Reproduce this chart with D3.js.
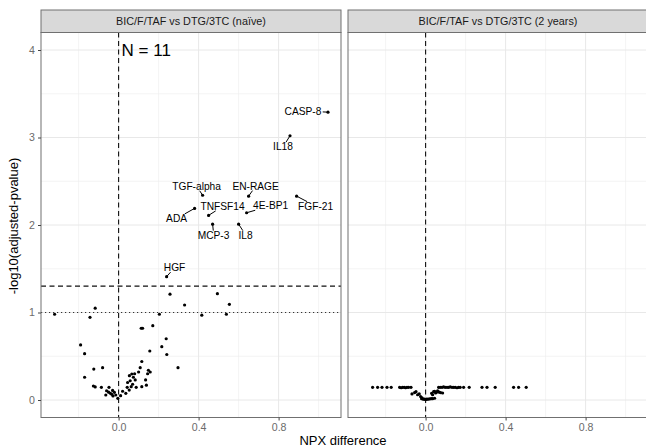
<!DOCTYPE html>
<html>
<head>
<meta charset="utf-8">
<script src="https://cdn.jsdelivr.net/npm/d3@7"></script>
<style>
  html, body { margin: 0; padding: 0; background: #fff; }
  svg { display: block; font-family: "Liberation Sans", Arial, Helvetica, sans-serif; }
</style>
</head>
<body>
<svg id="chart" width="646" height="448"></svg>
<script>
// Facet titles
const facetTitles = ["BIC/F/TAF vs DTG/3TC (naïve)", "BIC/F/TAF vs DTG/3TC (2 years)"];

// Axis ticks
const xTicks = [0, 0.4, 0.8];
const xMinor = [-0.2, 0.2, 0.6, 1.0];
const yTicks = [0, 1, 2, 3, 4];
const yMinor = [0.5, 1.5, 2.5, 3.5];

// Significance thresholds (-log10 scale)
const adjCutoff = 1.301;   // adjusted p = 0.05
const dotCutoff = 1.0;     // adjusted p = 0.10

// Naïve comparison: labelled proteins
const naiveLabels = ["CASP-8", "IL18", "TGF-alpha", "EN-RAGE", "FGF-21", "TNFSF14", "4E-BP1", "ADA", "MCP-3", "IL8", "HGF"];
const naiveLabelDiff = [1.047, 0.857, 0.42, 0.65, 0.89, 0.45, 0.64, 0.38, 0.47, 0.60, 0.24];
const naiveLabelP    = [3.29, 3.02, 2.34, 2.33, 2.33, 2.11, 2.14, 2.19, 2.01, 2.01, 1.41];

// Naïve comparison: remaining proteins
const naiveDiff = [-0.32, -0.117, -0.143, -0.19, -0.17, -0.124, -0.08, -0.17, -0.126, -0.117,
  -0.086, -0.06, -0.048, -0.064, -0.041, -0.034, -0.028, -0.021, -0.014, -0.004,
  0.036, 0.043, 0.053, 0.063, 0.07, 0.054, 0.066, 0.074, 0.083, 0.088,
  0.1, 0.108, 0.116, 0.116, 0.139, 0.149, 0.158, 0.113, 0.12, 0.171,
  0.156, 0.204, 0.216, 0.238, 0.241, 0.257, 0.33, 0.416, 0.494, 0.554,
  0.539, 0.297, 0.058, 0.045, 0.02, -0.05, 0.08, -0.03, 0.01, 0.135, 0.145];
const naiveP = [0.98, 1.05, 0.945, 0.63, 0.53, 0.354, 0.37, 0.26, 0.16, 0.15,
  0.145, 0.106, 0.145, 0.057, 0.076, 0.065, 0.046, 0.088, 0.057, 0.019,
  0.076, 0.145, 0.114, 0.152, 0.18, 0.278, 0.297, 0.26, 0.229, 0.145,
  0.32, 0.37, 0.44, 0.152, 0.17, 0.34, 0.32, 0.82, 0.82, 0.85,
  0.56, 0.98, 0.61, 0.70, 0.52, 1.21, 1.086, 0.97, 1.215, 1.094,
  0.98, 0.37, 0.22, 0.2, 0.1, 0.09, 0.3, 0.11, 0.05, 0.23, 0.3];

// 2-year comparison
const yearsDiff = [-0.265, -0.24, -0.218, -0.193, -0.172, -0.13, -0.122, -0.115, -0.107, -0.1,
  -0.093, -0.085, -0.073, 0.065, 0.073, 0.082, 0.09, 0.098, 0.107, 0.115,
  0.123, 0.132, 0.14, 0.148, 0.157, 0.165, 0.173, 0.19, 0.218, 0.282,
  0.307, 0.348, 0.44, 0.465, 0.503,
  -0.068, -0.055, -0.048, -0.04, -0.032, -0.025, -0.018,
  -0.02, -0.012, -0.005, 0, 0.005, 0.012, 0.02, 0.028, 0.035, 0.045,
  0.03, 0.035, 0.04, 0.045, 0.05, 0.055, 0.06, 0.068, 0.075, 0.085];
const yearsP = [0.145, 0.145, 0.145, 0.145, 0.145, 0.145, 0.14, 0.145, 0.145, 0.14,
  0.145, 0.145, 0.145, 0.145, 0.145, 0.145, 0.15, 0.145, 0.145, 0.145,
  0.15, 0.145, 0.145, 0.145, 0.14, 0.145, 0.145, 0.145, 0.145, 0.145,
  0.145, 0.145, 0.145, 0.145, 0.145,
  0.069, 0.085, 0.095, 0.06, 0.069, 0.04, 0.025,
  0.015, 0.01, 0.01, 0.005, 0.01, 0.01, 0.012, 0.015, 0.015, 0.02,
  0.076, 0.06, 0.095, 0.1, 0.08, 0.09, 0.105, 0.09, 0.085, 0.08];

// Label placement relative to its point (pixels)
const labelOffsets = {
  "CASP-8": [-25, -1], "IL18": [-7, 11], "TGF-alpha": [-6, -9], "EN-RAGE": [7, -10],
  "FGF-21": [19, 10], "TNFSF14": [14, -9], "4E-BP1": [24, -7], "ADA": [-18, 10],
  "MCP-3": [1, 11], "IL8": [7, 11], "HGF": [8, -9]
};

const svg = d3.select("#chart");
const panelW = 300, stripTop = 10, panelTop = 32.5, panelBottom = 417.5;
const panelLefts = [41, 348];

const y = d3.scaleLinear().domain([-0.2, 4.2]).range([panelBottom, panelTop]);

const panels = [
  { points: naiveDiff.map((d, i) => ({ x: d, y: naiveP[i] }))
      .concat(naiveLabelDiff.map((d, i) => ({ x: d, y: naiveLabelP[i], label: naiveLabels[i] }))),
    thresholds: true, note: "N = 11" },
  { points: yearsDiff.map((d, i) => ({ x: d, y: yearsP[i] })), thresholds: false }
];

panels.forEach((p, k) => {
  const left = panelLefts[k];
  const x = d3.scaleLinear().domain([-0.388, 1.112]).range([left, left + panelW]);
  const g = svg.append("g");

  // background & grid
  g.append("rect").attr("x", left).attr("y", panelTop).attr("width", panelW)
    .attr("height", panelBottom - panelTop).attr("fill", "#fff");
  g.selectAll(".gxm").data(xMinor).join("line")
    .attr("x1", d => x(d)).attr("x2", d => x(d)).attr("y1", panelTop).attr("y2", panelBottom)
    .attr("stroke", "#EFEFEF").attr("stroke-width", 0.7);
  g.selectAll(".gym").data(yMinor).join("line")
    .attr("y1", d => y(d)).attr("y2", d => y(d)).attr("x1", left).attr("x2", left + panelW)
    .attr("stroke", "#EFEFEF").attr("stroke-width", 0.7);
  g.selectAll(".gx").data(xTicks).join("line")
    .attr("x1", d => x(d)).attr("x2", d => x(d)).attr("y1", panelTop).attr("y2", panelBottom)
    .attr("stroke", "#E8E8E8").attr("stroke-width", 1);
  g.selectAll(".gy").data(yTicks).join("line")
    .attr("y1", d => y(d)).attr("y2", d => y(d)).attr("x1", left).attr("x2", left + panelW)
    .attr("stroke", "#E8E8E8").attr("stroke-width", 1);

  // reference lines
  g.append("line").attr("x1", x(0)).attr("x2", x(0)).attr("y1", panelTop).attr("y2", panelBottom)
    .attr("stroke", "#111").attr("stroke-width", 1.1).attr("stroke-dasharray", "5,3.5");
  if (p.thresholds) {
    g.append("line").attr("x1", left).attr("x2", left + panelW)
      .attr("y1", y(adjCutoff)).attr("y2", y(adjCutoff))
      .attr("stroke", "#111").attr("stroke-width", 1.1).attr("stroke-dasharray", "5,3.5");
    g.append("line").attr("x1", left).attr("x2", left + panelW)
      .attr("y1", y(dotCutoff)).attr("y2", y(dotCutoff))
      .attr("stroke", "#333").attr("stroke-width", 1.1).attr("stroke-dasharray", "1.2,2.8");
  }

  // points
  g.selectAll(".pt").data(p.points).join("circle")
    .attr("cx", d => x(d.x)).attr("cy", d => y(d.y)).attr("r", 1.6).attr("fill", "#000");

  // labels with leader segments
  p.points.filter(d => d.label).forEach(d => {
    const px = x(d.x), py = y(d.y);
    const off = labelOffsets[d.label];
    const t = g.append("text").attr("x", px + off[0]).attr("y", py + off[1])
      .attr("text-anchor", "middle").attr("dominant-baseline", "central")
      .attr("font-size", 10.2).attr("fill", "#000").text(d.label);
    const bb = t.node().getBBox();
    const cx = bb.x + bb.width / 2, cy = bb.y + bb.height / 2;
    const hw = bb.width / 2 + 1, hh = bb.height / 2 - 1;
    const dx = px - cx, dy = py - cy;
    const s = Math.min(dx !== 0 ? hw / Math.abs(dx) : Infinity, dy !== 0 ? hh / Math.abs(dy) : Infinity);
    if (s < 1) {
      g.append("line").attr("x1", cx + dx * s).attr("y1", cy + dy * s).attr("x2", px).attr("y2", py)
        .attr("stroke", "#000").attr("stroke-width", 1);
    }
  });

  if (p.note) {
    g.append("text").attr("x", x(0) + 3).attr("y", y(4)).attr("dominant-baseline", "central")
      .attr("font-size", 17).attr("fill", "#000").text(p.note);
  }

  // panel border
  g.append("rect").attr("x", left).attr("y", panelTop).attr("width", panelW)
    .attr("height", panelBottom - panelTop).attr("fill", "none")
    .attr("stroke", "#707070").attr("stroke-width", 1);

  // strip
  g.append("rect").attr("x", left).attr("y", stripTop).attr("width", panelW)
    .attr("height", panelTop - stripTop).attr("fill", "#D9D9D9")
    .attr("stroke", "#707070").attr("stroke-width", 1);
  g.append("text").attr("x", left + panelW / 2).attr("y", (stripTop + panelTop) / 2)
    .attr("text-anchor", "middle").attr("dominant-baseline", "central")
    .attr("font-size", 10.8).attr("fill", "#1A1A1A").text(facetTitles[k]);

  // x axis
  const xAxis = d3.axisBottom(x).tickValues(xTicks).tickFormat(d3.format(".1f")).tickSize(3).tickPadding(3);
  const ax = svg.append("g").attr("transform", `translate(0,${panelBottom})`).call(xAxis);
  ax.select(".domain").remove();
  ax.selectAll("line").attr("stroke", "#444");
  ax.selectAll("text").attr("font-size", 10.6).attr("fill", "#6b6b6b")
    .attr("font-family", "Liberation Sans, Arial, sans-serif");

  // y axis (left panel only)
  if (k === 0) {
    const yAxis = d3.axisLeft(y).tickValues(yTicks).tickFormat(d3.format("d")).tickSize(3).tickPadding(3);
    const ay = svg.append("g").attr("transform", `translate(${left},0)`).call(yAxis);
    ay.select(".domain").remove();
    ay.selectAll("line").attr("stroke", "#444");
    ay.selectAll("text").attr("font-size", 10.6).attr("fill", "#6b6b6b")
      .attr("font-family", "Liberation Sans, Arial, sans-serif");
  }
});

// axis titles
svg.append("text").attr("x", 343).attr("y", 440).attr("text-anchor", "middle")
  .attr("dominant-baseline", "central").attr("font-size", 13).attr("fill", "#000").text("NPX difference");
svg.append("text").attr("transform", "translate(13,226) rotate(-90)").attr("text-anchor", "middle")
  .attr("dominant-baseline", "central").attr("font-size", 13).attr("fill", "#000").text("-log10(adjusted-pvalue)");
</script>
</body>
</html>
